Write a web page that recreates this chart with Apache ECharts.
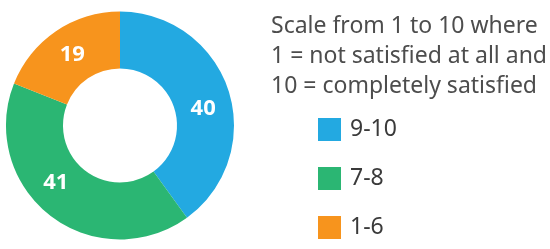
<!DOCTYPE html>
<html>
<head>
<meta charset="utf-8">
<script src="https://cdn.jsdelivr.net/npm/echarts@6/dist/echarts.min.js"></script>
<style>
  html, body { margin: 0; padding: 0; background: #fff; }
  #chart { width: 550px; height: 249px; }
</style>
</head>
<body>
<div id="chart"></div>
<script>
  /* data */
  const categories = ['9-10', '7-8', '1-6']
  const shares = [40, 41, 19]
  const colors = ['#23a9e1', '#2bb673', '#f7941d']
  const titleLines = ['Scale from 1 to 10 where', '1 = not satisfied at all and', '10 = completely satisfied']
  // label nudges so the numbers sit where the original puts them
  const labelOffsets = [[-1, 11], [-10, -13], [2, 2]]

  const chart = echarts.init(document.getElementById('chart'))
  chart.setOption({
    animation: false,
    color: colors,
    title: {
      text: titleLines.join('\n'),
      left: 266,
      top: 6,
      textStyle: {
        fontFamily: 'Noto Sans',
        fontSize: 23,
        fontWeight: 'normal',
        color: '#4d4d4d',
        lineHeight: 30
      }
    },
    legend: {
      orient: 'vertical',
      left: 313,
      top: 113,
      icon: 'rect',
      itemWidth: 23,
      itemHeight: 23,
      itemGap: 26,
      textStyle: {
        fontFamily: 'Noto Sans',
        fontSize: 23,
        color: '#3a3a3a',
        padding: [0, 0, 0, 4]
      },
      data: categories
    },
    series: [{
      type: 'pie',
      center: [120, 125.5],
      radius: [57, 114],
      startAngle: 90,
      clockwise: true,
      label: {
        show: true,
        position: 'inside',
        formatter: '{c}',
        fontFamily: 'Noto Sans',
        fontSize: 22,
        fontWeight: 'bold',
        color: '#fff'
      },
      labelLine: { show: false },
      data: categories.map((name, i) => ({
        name: name,
        value: shares[i],
        label: { offset: labelOffsets[i] }
      }))
    }]
  })
</script>
</body>
</html>
